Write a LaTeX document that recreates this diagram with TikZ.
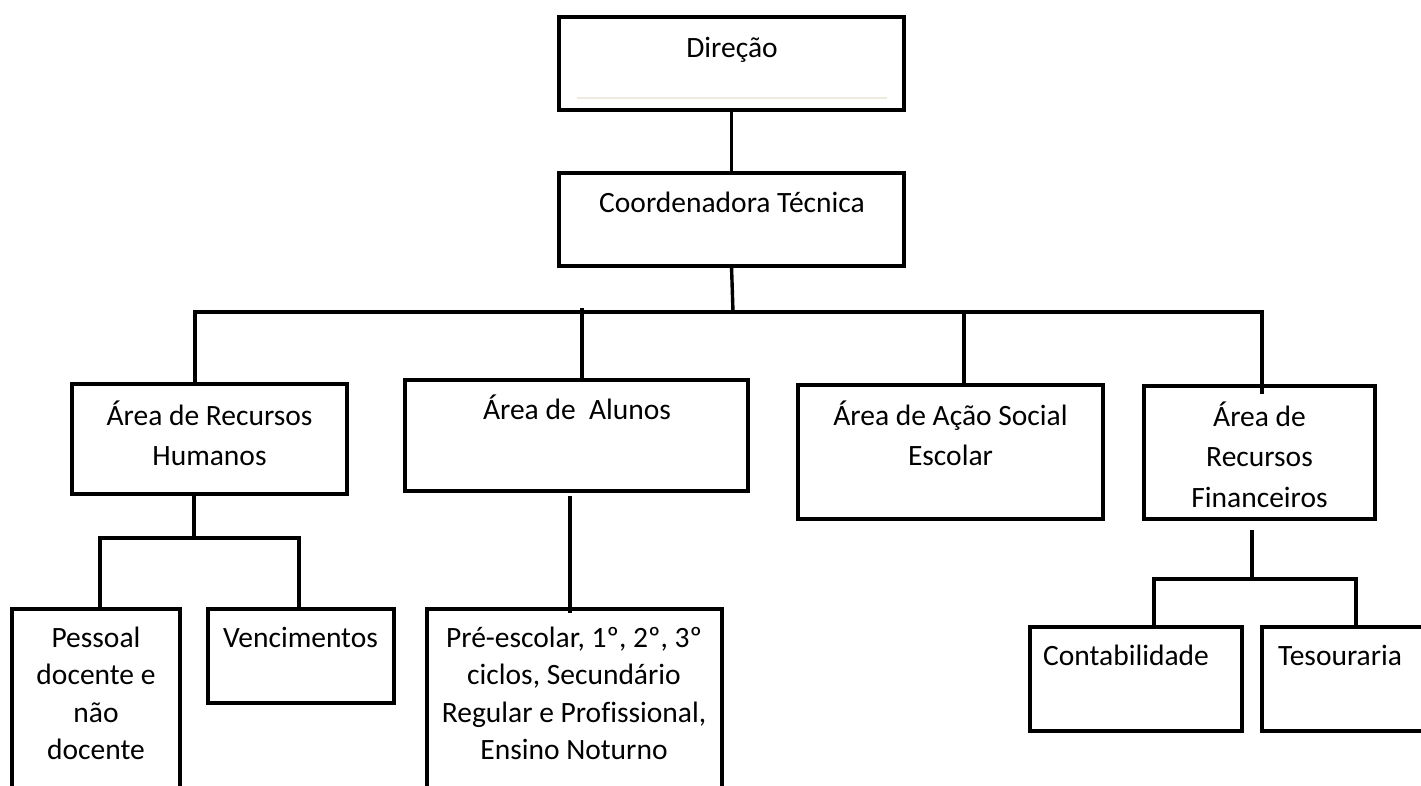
\documentclass[tikz,border=0pt]{standalone}
\usepackage{fontspec}
\setmainfont{Carlito}[Ligatures=NoCommon]
\tikzset{
  box/.style={draw=black, line width=3.4pt, rectangle, inner sep=0pt, outer sep=0pt},
  conn/.style={draw=black, line width=3.4pt},
  lbl/.style={anchor=base, inner sep=0pt, font=\fontsize{29.5}{40.5}\selectfont},
  lbls/.style={anchor=base, inner sep=0pt, font=\fontsize{29.5}{37.5}\selectfont},
}
\newcommand{\mlines}[1]{\begin{tabular}[t]{@{}c@{}}#1\end{tabular}}
\begin{document}
\begin{tikzpicture}[x=1pt, y=-1pt]
\fill[white] (0,0) rectangle (1421,785);
\clip (0,0) rectangle (1421,785);

% boxes
\node[box, minimum width=345, minimum height=93] (dir) at (731.5,63.5) {};
\node[box, minimum width=345, minimum height=93] (coord) at (731.5,219.5) {};
\node[box, minimum width=275, minimum height=110] (hr) at (209.5,439) {};
\node[box, minimum width=343, minimum height=111] (alunos) at (576.5,435.5) {};
\node[box, minimum width=305, minimum height=134] (acao) at (950.5,452) {};
\node[box, minimum width=231, minimum height=133] (rf) at (1259.5,452.5) {};
\node[box, minimum width=168, minimum height=211] (pessoal) at (96,714.5) {};
\node[box, minimum width=186, minimum height=94] (venc) at (301,656) {};
\node[box, minimum width=295, minimum height=211] (pre) at (574.5,714.5) {};
\node[box, minimum width=212, minimum height=104] (cont) at (1136,679) {};
\node[box, minimum width=188, minimum height=104] (tes) at (1356,679) {};

% faint line inside Direção
\draw[color={rgb,255:red,238;green,234;blue,224}, line width=1.6pt] (577,98) -- (887,98);

% texts
\node[lbl] (tdir) at (732,57) {Direção};
\node[lbl] (tcoord) at (732,212) {Coordenadora Técnica};
\node[lbl] (thr) at (209.5,425) {\mlines{Área de Recursos\\Humanos}};
\node[lbl] (talunos) at (577,419) {Área de\ \ Alunos};
\node[lbl] (tacao) at (950.5,425) {\mlines{Área de Ação Social\\Escolar}};
\node[lbl] (trf) at (1259.5,426) {\mlines{Área de\\Recursos\\Financeiros}};
\node[lbls] (tpessoal) at (96,647) {\mlines{Pessoal\\docente e\\não\\docente}};
\node[lbls] (tvenc) at (300.5,647) {Vencimentos};
\node[lbls] (tpre) at (574,647) {\mlines{Pré-escolar, 1º, 2º, 3º\\ciclos, Secundário\\Regular e Profissional,\\Ensino Noturno}};
\node[lbls] (tcont) at (1126,665) {Contabilidade};
\node[lbls] (ttes) at (1340,665) {Tesouraria};

% coordinates for connector joints
\coordinate (busC) at (733,312);
\coordinate (busL) at (195,312);
\coordinate (busR) at (1262,312);
\coordinate (alTop) at (582,308);
\coordinate (acX) at (964,312);
\coordinate (rfIn) at (1262,394);
\coordinate (hrJ) at (194,538);
\coordinate (hrL) at (100,538);
\coordinate (hrR) at (299,538);
\coordinate (alS) at (570,496);
\coordinate (preIn) at (570,613);
\coordinate (rfS) at (1252,530);
\coordinate (rfJ) at (1252,579);
\coordinate (rfL) at (1154,579);
\coordinate (rfR) at (1356,579);

% connectors
\draw[conn] (dir.south) -- (coord.north);
\draw[conn] (coord.south) -- (busC);
\draw[conn] (hr.north -| busL) -- (busL) -- (busR) -- (rfIn);
\draw[conn] (alTop) -- (alunos.north -| alTop);
\draw[conn] (acX) -- (acao.north -| acX);
\draw[conn] (hr.south -| hrJ) -- (hrJ);
\draw[conn] (pessoal.north -| hrL) -- (hrL) -- (hrR) -- (venc.north -| hrR);
\draw[conn] (alS) -- (preIn);
\draw[conn] (rfS) -- (rfJ);
\draw[conn] (cont.north -| rfL) -- (rfL) -- (rfR) -- (tes.north -| rfR);
\end{tikzpicture}
\end{document}
